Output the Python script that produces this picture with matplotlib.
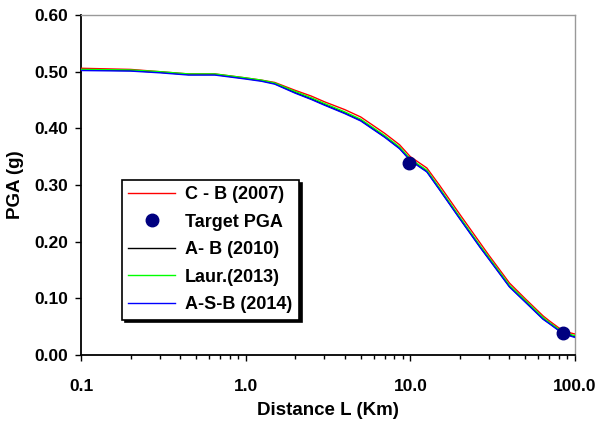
import matplotlib
matplotlib.use("Agg")
import matplotlib.pyplot as plt
from matplotlib.ticker import FixedLocator, FixedFormatter, LogLocator, NullFormatter

plt.rcParams['font.family'] = ['Liberation Sans', 'DejaVu Sans']
plt.rcParams['font.weight'] = 'bold'

# =========================
# DATA
# =========================

dist = [0.1, 0.2, 0.3, 0.45, 0.65, 1.0, 1.25, 1.5, 2.0, 2.5, 3.0, 4.0, 5.0, 7.0,
        8.6, 10.0, 12.6, 15.0, 20.0, 26.5, 30.0, 40.0, 50.0, 64.0, 70.0, 85.0, 100.0]

pga_cb2007 = [0.506, 0.504, 0.500, 0.496, 0.496, 0.489, 0.485, 0.481, 0.467, 0.457,
              0.447, 0.433, 0.420, 0.391, 0.371, 0.350, 0.330, 0.300, 0.248, 0.198,
              0.176, 0.127, 0.099, 0.069, 0.060, 0.042, 0.037]
pga_ab2010 = [0.503, 0.502, 0.499, 0.495, 0.495, 0.488, 0.484, 0.479, 0.463, 0.452,
              0.442, 0.427, 0.414, 0.385, 0.365, 0.344, 0.324, 0.293, 0.241, 0.191,
              0.170, 0.121, 0.094, 0.064, 0.056, 0.038, 0.032]
pga_laur2013 = [0.504, 0.503, 0.500, 0.496, 0.496, 0.489, 0.485, 0.480, 0.465, 0.454,
                0.444, 0.429, 0.416, 0.387, 0.367, 0.346, 0.326, 0.295, 0.243, 0.193,
                0.172, 0.123, 0.096, 0.066, 0.057, 0.040, 0.034]
pga_asb2014 = [0.502, 0.501, 0.498, 0.494, 0.494, 0.487, 0.483, 0.478, 0.462, 0.451,
               0.441, 0.426, 0.413, 0.384, 0.364, 0.343, 0.323, 0.292, 0.240, 0.190,
               0.169, 0.120, 0.093, 0.063, 0.055, 0.037, 0.031]

target_dist = [9.8, 85.0]
target_pga = [0.339, 0.038]

xticks = [0.1, 1.0, 10.0, 100.0]
xtick_labels = ['0.1', '1.0', '10.0', '100.0']
yticks = [0.0, 0.1, 0.2, 0.3, 0.4, 0.5, 0.6]
ytick_labels = ['0.00', '0.10', '0.20', '0.30', '0.40', '0.50', '0.60']

# =========================
# PLOT
# =========================

fig = plt.figure(figsize=(5.98, 4.26), dpi=100)
ax = fig.add_axes([81 / 598, 71 / 426, 494 / 598, 340 / 426])

ax.plot(dist, pga_ab2010, color='black', lw=1.0, label='A- B (2010)', zorder=2)
ax.plot(dist, pga_cb2007, color='#FF0000', lw=1.0, label='C - B (2007)', zorder=3)
ax.plot(dist, pga_laur2013, color='#00FF00', lw=1.0, label='Laur.(2013)', zorder=3)
ax.plot(dist, pga_asb2014, color='#0000FF', lw=1.0, label='A-S-B (2014)', zorder=3)
ax.plot(target_dist, target_pga, 'o', color='#000080', ms=9, label='Target PGA', zorder=4)

ax.set_xscale('log')
ax.set_xlim(0.1, 100)
ax.set_ylim(0, 0.6)

ax.xaxis.set_major_locator(FixedLocator(xticks))
ax.xaxis.set_major_formatter(FixedFormatter(xtick_labels))
ax.xaxis.set_minor_locator(LogLocator(base=10, subs=range(2, 10)))
ax.xaxis.set_minor_formatter(NullFormatter())
ax.yaxis.set_major_locator(FixedLocator(yticks))
ax.yaxis.set_major_formatter(FixedFormatter(ytick_labels))

ax.tick_params(axis='both', which='major', direction='out', length=4, width=1,
               labelsize=12.5)
ax.tick_params(axis='x', which='major', pad=13)
ax.tick_params(axis='y', which='major', pad=5)
ax.tick_params(axis='x', which='minor', direction='out', length=3, width=1)

for side in ['left', 'bottom']:
    ax.spines[side].set_color('black')
    ax.spines[side].set_linewidth(1.3)
for side in ['top', 'right']:
    ax.spines[side].set_color('#999999')
    ax.spines[side].set_linewidth(1.0)

ax.set_xlabel('Distance L (Km)', fontsize=13.5, fontweight='bold', labelpad=6)
ax.set_ylabel('PGA (g)', fontsize=13.5, fontweight='bold', labelpad=8)

handles, labels = ax.get_legend_handles_labels()
order = ['C - B (2007)', 'Target PGA', 'A- B (2010)', 'Laur.(2013)', 'A-S-B (2014)']
hmap = dict(zip(labels, handles))
leg = ax.legend([hmap[k] for k in order], order, loc='upper left',
                bbox_to_anchor=(122 / 598, 1 - 180 / 426), bbox_transform=fig.transFigure,
                borderaxespad=0, fancybox=False, shadow={'color': 'black', 'alpha': 1},
                edgecolor='black', framealpha=1, handlelength=2.6, handletextpad=0.55,
                labelspacing=0.58, borderpad=0.35, prop={'weight': 'bold', 'size': 13})
leg.get_frame().set_linewidth(1.2)

fig.savefig('out.png', dpi=100)
